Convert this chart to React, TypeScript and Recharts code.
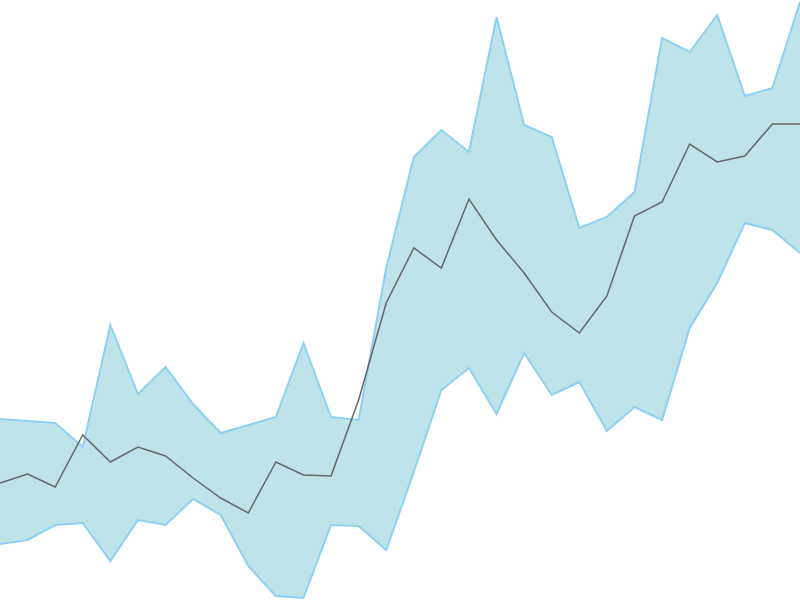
import React from 'react';
import { ComposedChart, Area, Line, XAxis, YAxis } from 'recharts';

// band limits and centre line, one value per step
const upper = [181, 179, 177, 153, 275, 206, 233, 196, 167, 175, 183, 257, 183, 180, 332, 443, 470, 448, 583, 475, 463, 372, 383, 408, 562, 548, 585, 504, 512, 598];
const lower = [56, 60, 75, 77, 39, 80, 75, 101, 85, 34, 4, 2, 75, 74, 50, 128, 210, 232, 186, 247, 205, 218, 169, 193, 180, 272, 317, 377, 370, 347];
const middle = [117, 126, 113, 165, 138, 153, 144, 122, 102, 87, 138, 125, 124, 200, 297, 352, 332, 401, 360, 327, 288, 267, 304, 384, 398, 456, 438, 444, 476, 476];

const data = middle.map((m, i) => ({
  i,
  range: [lower[i], upper[i]],
  mid: m,
}));

const App: React.FC = () => {
  return (
    <div style={{ position: 'absolute', top: 0, left: 0, width: 800, height: 600 }}>
      <ComposedChart width={800} height={600} data={data} margin={{ top: 0, right: 0, bottom: 0, left: 0 }}>
        <XAxis dataKey="i" type="number" domain={[0, 29]} hide />
        <YAxis domain={[0, 600]} hide />
        <Area
          dataKey="range"
          type="linear"
          fill="#bee4e9"
          fillOpacity={1}
          stroke="#8ed0f4"
          strokeWidth={2}
          dot={false}
          activeDot={false}
          isAnimationActive={false}
        />
        <Line
          dataKey="mid"
          type="linear"
          stroke="#666666"
          strokeWidth={1.5}
          dot={false}
          activeDot={false}
          isAnimationActive={false}
        />
      </ComposedChart>
    </div>
  );
};

export default App;
